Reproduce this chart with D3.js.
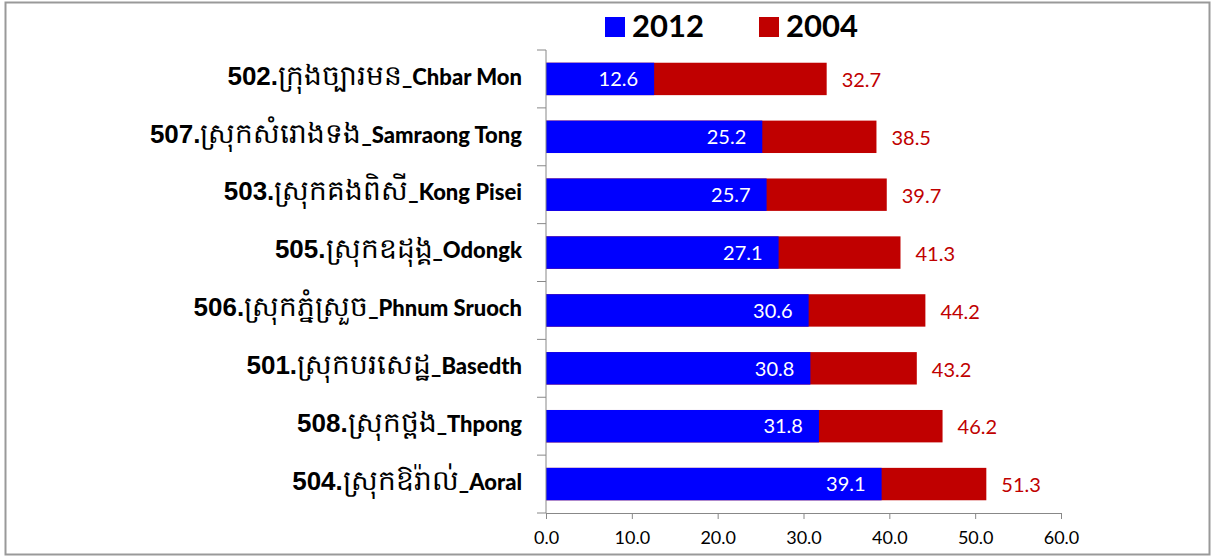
<!DOCTYPE html>
<html>
<head>
<meta charset="utf-8">
<script src="https://cdn.jsdelivr.net/npm/d3@7"></script>
<style>
	body { margin: 0; background: #fff; }
	svg { display: block; }
	.axis path, .axis line { stroke: #888; }
	.axis--x text { font-family: Lato, "Open Sans", sans-serif; font-size: 18px; fill: #000; }
</style>
</head>
<body>
<svg width="1211" height="557"></svg>
<script>
// data
var districts = [
	"502.ក្រុងច្បារមន_Chbar Mon",
	"507.ស្រុកសំរោងទង_Samraong Tong",
	"503.ស្រុកគងពិសី_Kong Pisei",
	"505.ស្រុកឧដុង្គ_Odongk",
	"506.ស្រុកភ្នំស្រួច_Phnum Sruoch",
	"501.ស្រុកបរសេដ្ឋ_Basedth",
	"508.ស្រុកថ្ពង_Thpong",
	"504.ស្រុកឱរ៉ាល់_Aoral"
];
var v2012 = [12.6, 25.2, 25.7, 27.1, 30.6, 30.8, 31.8, 39.1];
var v2004 = [32.7, 38.5, 39.7, 41.3, 44.2, 43.2, 46.2, 51.3];
var xTicks = [0, 10, 20, 30, 40, 50, 60];
var seriesNames = ["2012", "2004"];

var blue = "#0000ff", red = "#c00000";

var svg = d3.select("svg"),
	margin = {top: 50, right: 150, bottom: 44, left: 546},
	width = +svg.attr("width") - margin.left - margin.right,
	height = +svg.attr("height") - margin.top - margin.bottom;

// outer frame
svg.append("rect")
	.attr("x", 5.5).attr("y", 2.5)
	.attr("width", 1204).attr("height", 552)
	.attr("fill", "none")
	.attr("stroke", "#999")
	.attr("stroke-width", 2);

var g = svg.append("g")
	.attr("transform", "translate(" + margin.left + "," + margin.top + ")");

var x = d3.scaleLinear()
	.domain([0, 60])
	.range([0, width]);

var y = d3.scaleBand()
	.domain(districts)
	.range([0, height])
	.paddingInner(0.44)
	.paddingOuter(0.22);

var rows = districts.map(function(d, i) {
	return {name: d, a: v2012[i], b: v2004[i]};
});

// 2004 bar behind, 2012 bar on top
g.selectAll(".bar2004")
	.data(rows)
	.enter().append("rect")
	.attr("class", "bar2004")
	.attr("x", 0)
	.attr("y", function(d) { return y(d.name); })
	.attr("width", function(d) { return x(d.b); })
	.attr("height", y.bandwidth())
	.attr("fill", red);

g.selectAll(".bar2012")
	.data(rows)
	.enter().append("rect")
	.attr("class", "bar2012")
	.attr("x", 0)
	.attr("y", function(d) { return y(d.name); })
	.attr("width", function(d) { return x(d.a); })
	.attr("height", y.bandwidth())
	.attr("fill", blue);

// value labels
g.selectAll(".lab2012")
	.data(rows)
	.enter().append("text")
	.attr("class", "lab2012")
	.attr("x", function(d) { return x(d.a) - 16; })
	.attr("y", function(d) { return y(d.name) + y.bandwidth() / 2; })
	.attr("dy", "0.36em")
	.attr("text-anchor", "end")
	.attr("fill", "#fff")
	.style("font-family", "Lato, sans-serif")
	.style("font-size", "20px")
	.text(function(d) { return d.a.toFixed(1); });

g.selectAll(".lab2004")
	.data(rows)
	.enter().append("text")
	.attr("class", "lab2004")
	.attr("x", function(d) { return x(d.b) + 15; })
	.attr("y", function(d) { return y(d.name) + y.bandwidth() / 2 + 1; })
	.attr("dy", "0.36em")
	.attr("fill", red)
	.style("font-family", "Lato, sans-serif")
	.style("font-size", "20px")
	.text(function(d) { return d.b.toFixed(1); });

// x axis
g.append("g")
	.attr("class", "axis axis--x")
	.attr("transform", "translate(0," + height + ")")
	.call(d3.axisBottom(x)
		.tickValues(xTicks)
		.tickFormat(d3.format(".1f"))
		.tickSizeInner(6)
		.tickSizeOuter(6)
		.tickPadding(12));

// y axis: line plus ticks at band boundaries
var yAxis = g.append("g").attr("class", "axis axis--y");
yAxis.append("line")
	.attr("x1", 0).attr("x2", 0)
	.attr("y1", 0).attr("y2", height);
var step = y.step();
yAxis.selectAll(".tick")
	.data(d3.range(districts.length + 1))
	.enter().append("line")
	.attr("x1", -9).attr("x2", 0)
	.attr("y1", function(i) { return i * step; })
	.attr("y2", function(i) { return i * step; });

// category labels: number, Khmer name, latin name in different fonts
var cats = yAxis.selectAll(".cat")
	.data(districts)
	.enter().append("text")
	.attr("class", "cat")
	.attr("x", -24)
	.attr("y", function(d) { return y(d) + y.bandwidth() / 2; })
	.attr("dy", "0.36em")
	.attr("text-anchor", "end")
	.attr("fill", "#000");

cats.each(function(d) {
	var m = d.match(/^(\d+\.)(.*?)(_.*)$/);
	var t = d3.select(this);
	t.append("tspan")
		.style("font-family", "'Liberation Sans', Arial, sans-serif")
		.style("font-weight", "bold")
		.style("font-size", "26px")
		.text(m[1]);
	t.append("tspan")
		.style("font-family", "sans-serif")
		.style("font-size", "28px")
		.text(m[2]);
	t.append("tspan")
		.style("font-family", "Lato, sans-serif")
		.style("font-weight", "900")
		.style("font-size", "22px")
		.text(m[3]);
});

// legend
var legend = svg.append("g");
var legendX = [605, 759];
seriesNames.forEach(function(s, i) {
	legend.append("rect")
		.attr("x", legendX[i]).attr("y", 17)
		.attr("width", 20).attr("height", 20)
		.attr("fill", i == 0 ? blue : red);
	legend.append("text")
		.attr("x", legendX[i] + 27).attr("y", 37)
		.style("font-family", "Lato, sans-serif")
		.style("font-size", "31px")
		.style("font-weight", "bold")
		.text(s);
});
</script>
</body>
</html>
